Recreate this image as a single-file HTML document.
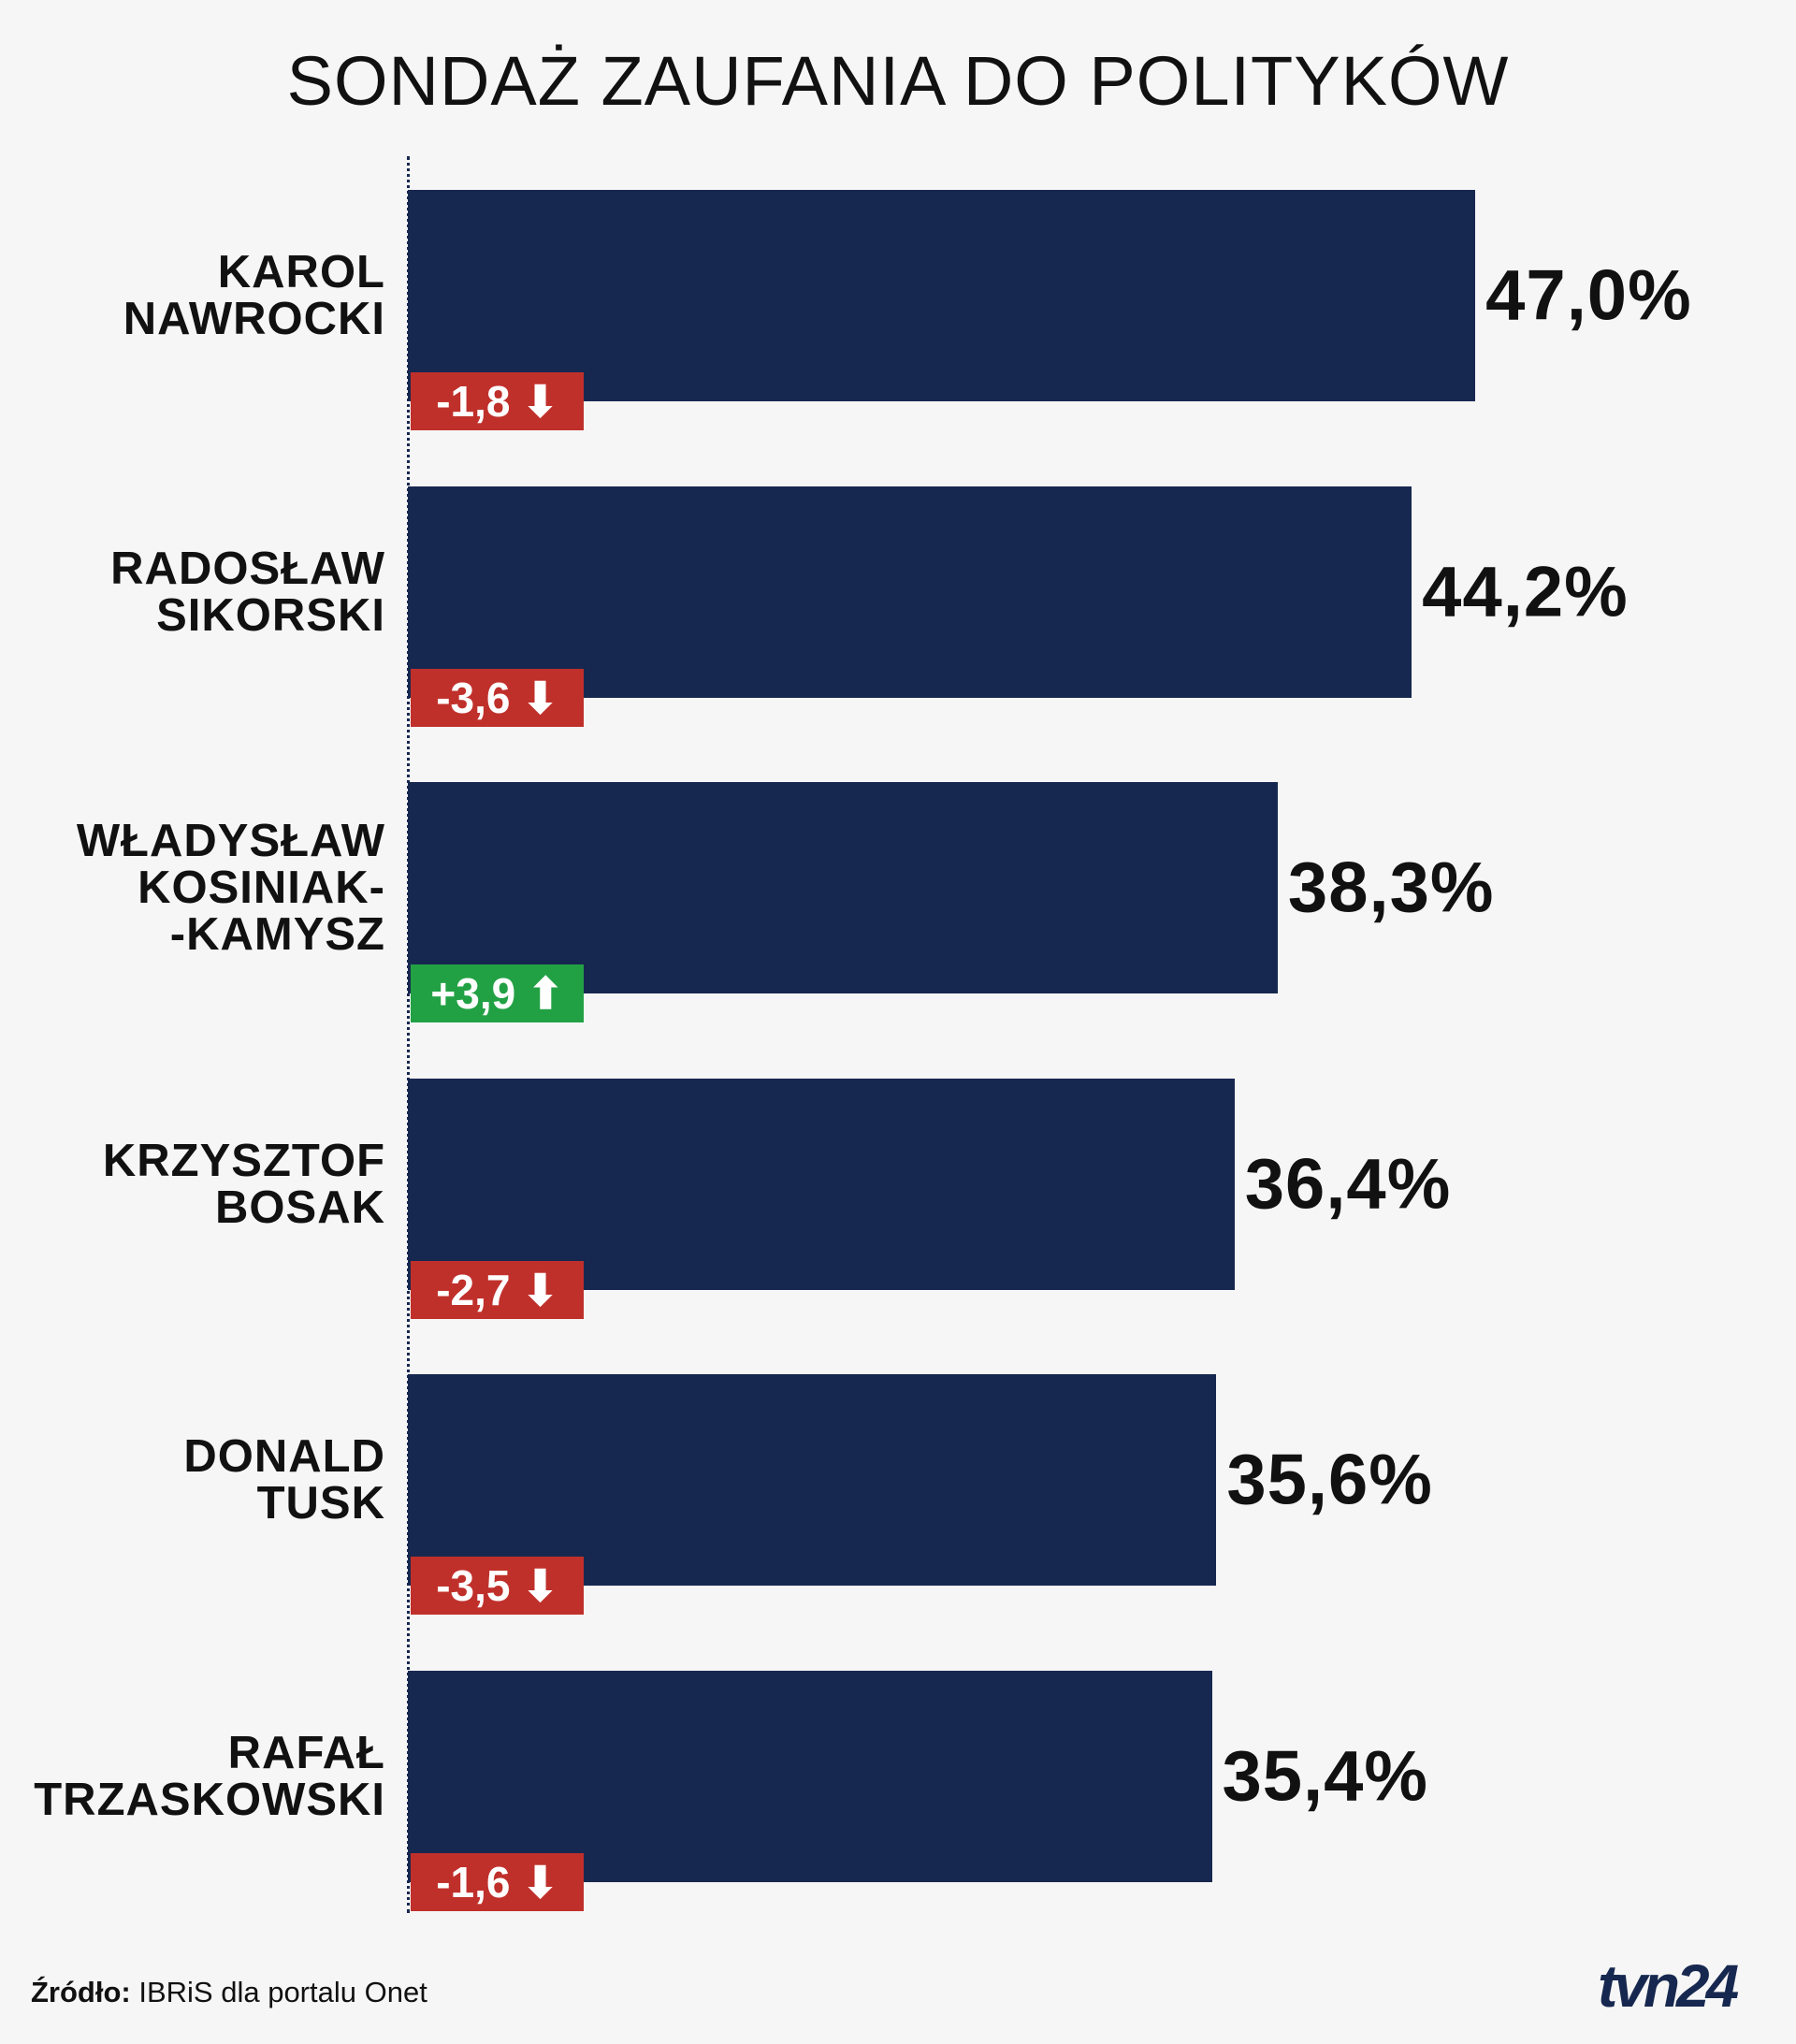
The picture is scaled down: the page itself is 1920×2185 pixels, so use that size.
<!DOCTYPE html>
<html><head><meta charset="utf-8">
<style>
body{margin:0;background:#f6f6f6;}
#c{position:relative;width:1920px;height:2185px;background:#f6f6f6;font-family:"Liberation Sans",sans-serif;overflow:hidden}
.title{position:absolute;left:0;width:1920px;top:44px;text-align:center;font-size:74px;color:#111;letter-spacing:1px}
.axis{position:absolute;left:435px;top:167px;height:1878px;border-left:3px dotted #172850}
.bar{position:absolute;background:#172850;height:226px}
.name{position:absolute;right:1508px;text-align:right;font-weight:bold;font-size:49px;line-height:50px;letter-spacing:1px;color:#111;transform:translateY(-50%)}
.val{position:absolute;font-weight:bold;font-size:76px;color:#111;transform:translateY(-50%);letter-spacing:1px}
.badge{position:absolute;left:439px;width:185px;height:62px;color:#fff;font-weight:bold;font-size:46px;line-height:62px;text-align:center}
.foot{position:absolute;left:33px;top:2112px;font-size:31px;color:#111}
.logo{position:absolute;left:1708px;top:2086px;font-size:64px;font-weight:bold;font-style:italic;color:#172850;letter-spacing:-4px}
</style></head><body>
<div id="c">
<div class="title">SONDAŻ ZAUFANIA DO POLITYKÓW</div>
<div class="axis"></div>
<div class="foot"><b>Źródło:</b> IBRiS dla portalu Onet</div>
<div class="logo">tvn24</div>
</div>
<script>
const names=[["KAROL","NAWROCKI"],["RADOSŁAW","SIKORSKI"],["WŁADYSŁAW","KOSINIAK-","-KAMYSZ"],["KRZYSZTOF","BOSAK"],["DONALD","TUSK"],["RAFAŁ","TRZASKOWSKI"]];
const values=[47.0,44.2,38.3,36.4,35.6,35.4];
const changes=[-1.8,-3.6,3.9,-2.7,-3.5,-1.6];
const c=document.getElementById('c');
const x0=436, pxPer=24.28, top0=203, step=316.6, bh=226;
const xs=v=>v*pxPer;
const fmt=v=>v.toFixed(1).replace('.',',');
values.forEach((v,i)=>{
  const y=top0+i*step;
  const b=document.createElement('div');b.className='bar';
  
  
  b.style.left=x0+'px';b.style.top=y+'px';b.style.width=xs(v)+'px';c.appendChild(b);
  const n=document.createElement('div');n.className='name';
  
  
  n.innerHTML=names[i].join('<br>');n.style.top=(y+bh/2)+'px';c.appendChild(n);
  const l=document.createElement('div');l.className='val';
  
  
  l.textContent=fmt(v)+'%';l.style.left=(x0+xs(v)+11)+'px';l.style.top=(y+bh/2)+'px';c.appendChild(l);
  const ch=changes[i];
  const g=document.createElement('div');g.className='badge';
  
  
  g.style.top=(y+195)+'px';g.style.background=ch<0?'#c0302b':'#22a144';
  g.textContent=(ch<0?'-':'+')+fmt(Math.abs(ch))+(ch<0?' ⬇':' ⬆');
  c.appendChild(g);
});
</script>
</body></html>
